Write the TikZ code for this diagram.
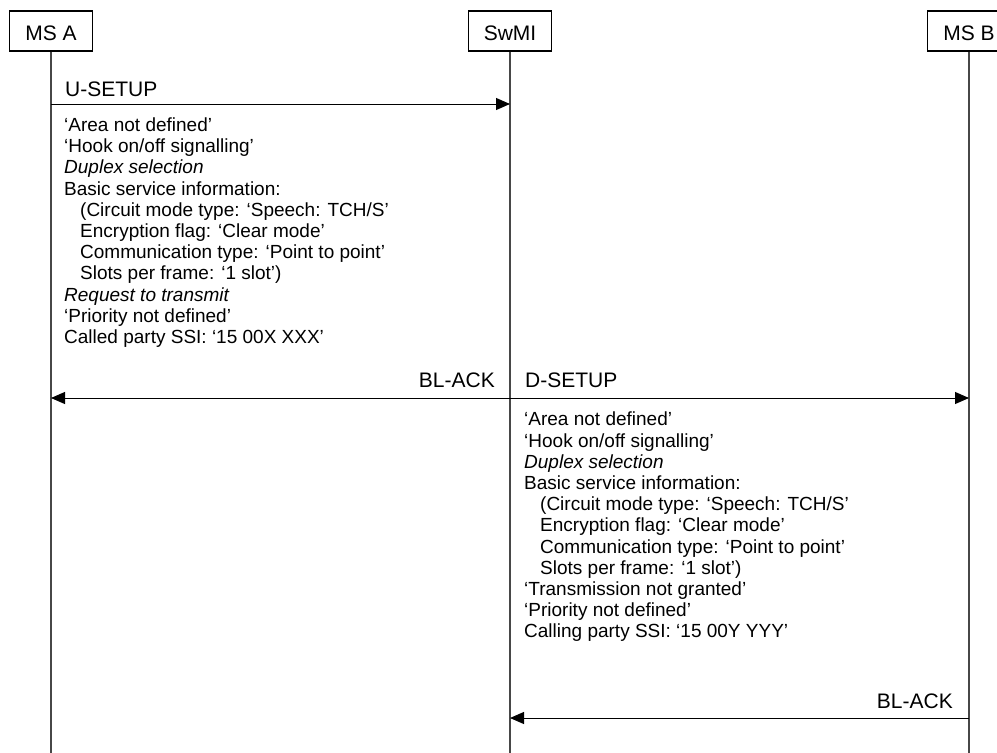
\documentclass[tikz,border=0pt]{standalone}
\usepackage{fontspec}
\setmainfont{Liberation Sans}
\usepackage{tikz}
\usetikzlibrary{arrows.meta}
\tikzset{
  entity/.style={draw, line width=1.2pt, minimum width=83pt, minimum height=40pt, inner sep=0pt, text height=18pt, text depth=0pt, font=\fontsize{21}{24}\selectfont},
  life/.style={draw=black!72, line width=2pt},
  msg/.style={line width=1pt, -{Triangle[length=14pt,width=12pt]}},
  lbl/.style={inner sep=0pt, font=\fontsize{21}{24}\selectfont},
  info/.style={inner sep=0pt, align=left, anchor=north west, font=\fontsize{19}{21.2}\selectfont}
}

\begin{document}
\begin{tikzpicture}[x=1pt,y=-1pt]
    \useasboundingbox (0,0) rectangle (997,753);
    \node[entity] (msa) at (51,31) {MS A};
    \node[entity] (swmi) at (510,31) {SwMI};
    \node[entity] (msb) at (969,31) {MS B};
    \coordinate (msaend) at (51,753);
    \coordinate (swmiend) at (510,753);
    \coordinate (msbend) at (969,753);
    \draw[life] (msa.south) -- (msaend);
    \draw[life] (swmi.south) -- (swmiend);
    \draw[life] (msb.south) -- (msbend);
    \coordinate (a1) at (msa |- 0,104);
    \coordinate (s1) at (swmi |- 0,104);
    \coordinate (a2) at (msa |- 0,398);
    \coordinate (s2) at (swmi |- 0,398);
    \coordinate (b2) at (msb |- 0,398);
    \coordinate (s3) at (swmi |- 0,718);
    \coordinate (b3) at (msb |- 0,718);
    \draw[msg] (a1) -- (s1);
    \draw[msg] (s2) -- (a2);
    \draw[msg] (s2) -- (b2);
    \draw[msg] (b3) -- (s3);
    \node[lbl, anchor=base west] (usetup) at (65,96) {U-SETUP};
    \node[lbl, anchor=base east] (ack1) at (495,387) {BL-ACK};
    \node[lbl, anchor=base west] (dsetup) at (525,387) {D-SETUP};
    \node[lbl, anchor=base east] (ack2) at (953,708) {BL-ACK};
    \node[info] (uinfo) at (64,117.5) {`Area not defined'\\
      `Hook on/off signalling'\\
      \textit{Duplex selection}\\
      Basic service information:\\
      \hspace*{16pt}(Circuit mode type: `Speech: TCH/S'\\
      \hspace*{16pt}Encryption flag: `Clear mode'\\
      \hspace*{16pt}Communication type: `Point to point'\\
      \hspace*{16pt}Slots per frame: `1 slot')\\
      \textit{Request to transmit}\\
      `Priority not defined'\\
      Called party SSI: `15 00X XXX'};
    \node[info] (dinfo) at (524,412) {`Area not defined'\\
      `Hook on/off signalling'\\
      \textit{Duplex selection}\\
      Basic service information:\\
      \hspace*{16pt}(Circuit mode type: `Speech: TCH/S'\\
      \hspace*{16pt}Encryption flag: `Clear mode'\\
      \hspace*{16pt}Communication type: `Point to point'\\
      \hspace*{16pt}Slots per frame: `1 slot')\\
      `Transmission not granted'\\
      `Priority not defined'\\
      Calling party SSI: `15 00Y YYY'};
  \end{tikzpicture}
\end{document}
